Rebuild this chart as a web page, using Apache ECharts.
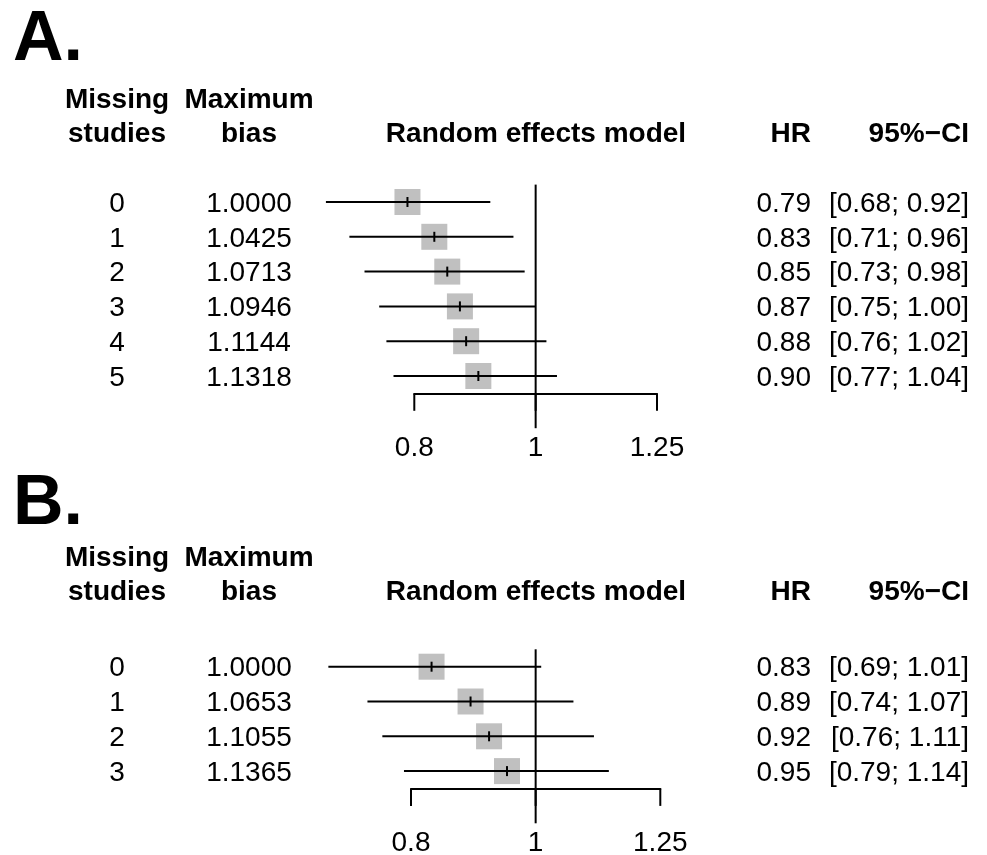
<!DOCTYPE html>
<html><head><meta charset="utf-8">
<script src="https://cdn.jsdelivr.net/npm/echarts@6/dist/echarts.min.js"></script>
<style>html,body{margin:0;padding:0;background:#fff}#c{width:987px;height:855px}</style>
</head><body><div id="c"></div>
<script>
// ---- Data ----
const missingA = ['0', '1', '2', '3', '4', '5'];
const biasA = ['1.0000', '1.0425', '1.0713', '1.0946', '1.1144', '1.1318'];
const hrA = [0.79, 0.83, 0.85, 0.87, 0.88, 0.90];
const loA = [0.68, 0.71, 0.73, 0.75, 0.76, 0.77];
const hiA = [0.92, 0.96, 0.98, 1.00, 1.02, 1.04];

const missingB = ['0', '1', '2', '3'];
const biasB = ['1.0000', '1.0653', '1.1055', '1.1365'];
const hrB = [0.83, 0.89, 0.92, 0.95];
const loB = [0.69, 0.74, 0.76, 0.79];
const hiB = [1.01, 1.07, 1.11, 1.14];

const xTicks = [0.8, 1, 1.25];
const xTickLabels = ['0.8', '1', '1.25'];
const refValue = 1;

const panelLetters = ['A.', 'B.'];
const colHeaders1 = ['Missing', 'Maximum'];
const colHeaders2 = ['studies', 'bias', 'Random effects model', 'HR', '95%\u2212CI'];

// ---- Styles ----
const FONT = 'Liberation Sans, Arial, Helvetica, sans-serif';
const FS = 28;
const BOX = 26;
const BOX_COLOR = '#c0c0c0';
const COLX = { miss: 117, bias: 249, hr: 811, ci: 969 };

function rowsOf(miss, bias, hr, lo, hi) {
  return hr.map((v, i) => [i, v, lo[i], hi[i], miss[i], bias[i]]);
}

function makeForestRender(rows) {
  return function (params, api) {
    const i = api.value(0);
    const hr = api.value(1), lo = api.value(2), hi = api.value(3);
    const raw = rows[params.dataIndex];
    const pC = api.coord([hr, i]);
    const pL = api.coord([lo, i]);
    const pH = api.coord([hi, i]);
    const y = pC[1];
    const txt = (t, x, align) => ({
      type: 'text', x: x, y: y + 2,
      style: { text: t, fill: '#000', fontSize: FS, fontFamily: FONT,
        align: align, verticalAlign: 'middle' }
    });
    return {
      type: 'group',
      children: [
        { type: 'rect', shape: { x: pC[0] - BOX / 2, y: y - BOX / 2, width: BOX, height: BOX },
          style: { fill: BOX_COLOR } },
        { type: 'line', shape: { x1: pL[0], y1: y, x2: pH[0], y2: y },
          style: { stroke: '#000', lineWidth: 2 } },
        { type: 'line', shape: { x1: pC[0], y1: y - 5, x2: pC[0], y2: y + 5 },
          style: { stroke: '#000', lineWidth: 2 } },
        txt(raw[4], COLX.miss, 'center'),
        txt(raw[5], COLX.bias, 'center'),
        txt(hr.toFixed(2), COLX.hr, 'right'),
        txt('[' + lo.toFixed(2) + '; ' + hi.toFixed(2) + ']', COLX.ci, 'right')
      ]
    };
  };
}

function axisRender(n) {
  return function (params, api) {
    const v = api.value(0);
    const k = params.dataIndex;
    const p0 = api.coord([v, n - 0.5]);
    const p1 = api.coord([v, n]);
    const p2 = api.coord([v, n + 1]);
    return {
      type: 'group',
      children: [
        { type: 'line', shape: { x1: p0[0], y1: p0[1], x2: p1[0], y2: p1[1] },
          style: { stroke: '#000', lineWidth: 2 } },
        { type: 'text', x: p2[0], y: p2[1] + 3,
          style: { text: xTickLabels[k], fill: '#000', fontSize: FS, fontFamily: FONT,
            align: 'center', verticalAlign: 'middle' } }
      ]
    };
  };
}

function refRender(n) {
  return function (params, api) {
    const a = api.coord([api.value(0), -0.5]);
    const b = api.coord([api.value(0), n + 0.5]);
    return { type: 'line', shape: { x1: a[0], y1: a[1], x2: b[0], y2: b[1] },
      style: { stroke: '#000', lineWidth: 2 } };
  };
}

const panels = [
  { rows: rowsOf(missingA, biasA, hrA, loA, hiA), n: hrA.length },
  { rows: rowsOf(missingB, biasB, hrB, loB, hiB), n: hrB.length }
];

const grids = [
  { left: 414.3, width: 242.7, top: 184.6, height: 34.8 * 6 },
  { left: 411, width: 249.3, top: 649.3, height: 34.8 * 4 }
];

const xAxes = panels.map((p, g) => ({
  type: 'log', gridIndex: g, min: xTicks[0], max: xTicks[xTicks.length - 1],
  axisLine: { show: true, onZero: false, lineStyle: { color: '#000', width: 2 } },
  axisTick: { show: false }, axisLabel: { show: false }, splitLine: { show: false }
}));
const yAxes = panels.map((p, g) => ({
  type: 'value', gridIndex: g, min: -0.5, max: p.n - 0.5, inverse: true, show: false,
  splitLine: { show: false }
}));

const series = [];
panels.forEach((p, g) => {
  series.push({
    type: 'custom', xAxisIndex: g, yAxisIndex: g, clip: false, silent: true, z: 1,
    data: [[refValue]], renderItem: refRender(p.n)
  });
  series.push({
    type: 'custom', xAxisIndex: g, yAxisIndex: g, clip: false, silent: true, z: 2,
    data: xTicks.map(v => [v]), renderItem: axisRender(p.n)
  });
  series.push({
    type: 'custom', xAxisIndex: g, yAxisIndex: g, clip: false, silent: true, z: 3,
    data: p.rows.map(r => r.slice(0, 4)),
    renderItem: makeForestRender(p.rows)
  });
});

// header text (graphic)
const headerY = [[41, 100, 134.5], [505, 558, 592]];
const graphic = [];
headerY.forEach((hy, g) => {
  const bold = { fill: '#000', fontFamily: FONT, fontWeight: 'bold', fontSize: FS, verticalAlign: 'middle' };
  const add = (t, x, y, align, fs) => graphic.push({ type: 'text', x: x, y: y,
    style: Object.assign({}, bold, { text: t, align: align }, fs ? { fontSize: fs } : {}) });
  add(panelLetters[g], 13, hy[0], 'left', 70);
  add(colHeaders1[0], COLX.miss, hy[1], 'center');
  add(colHeaders1[1], COLX.bias, hy[1], 'center');
  add(colHeaders2[0], COLX.miss, hy[2], 'center');
  add(colHeaders2[1], COLX.bias, hy[2], 'center');
  add(colHeaders2[2], 536, hy[2], 'center');
  add(colHeaders2[3], COLX.hr, hy[2], 'right');
  add(colHeaders2[4], COLX.ci, hy[2], 'right');
});

const chart = echarts.init(document.getElementById('c'), null, { renderer: 'canvas' });
chart.setOption({
  backgroundColor: '#fff',
  animation: false,
  grid: grids,
  xAxis: xAxes,
  yAxis: yAxes,
  series: series,
  graphic: graphic
});
</script>
</body></html>
